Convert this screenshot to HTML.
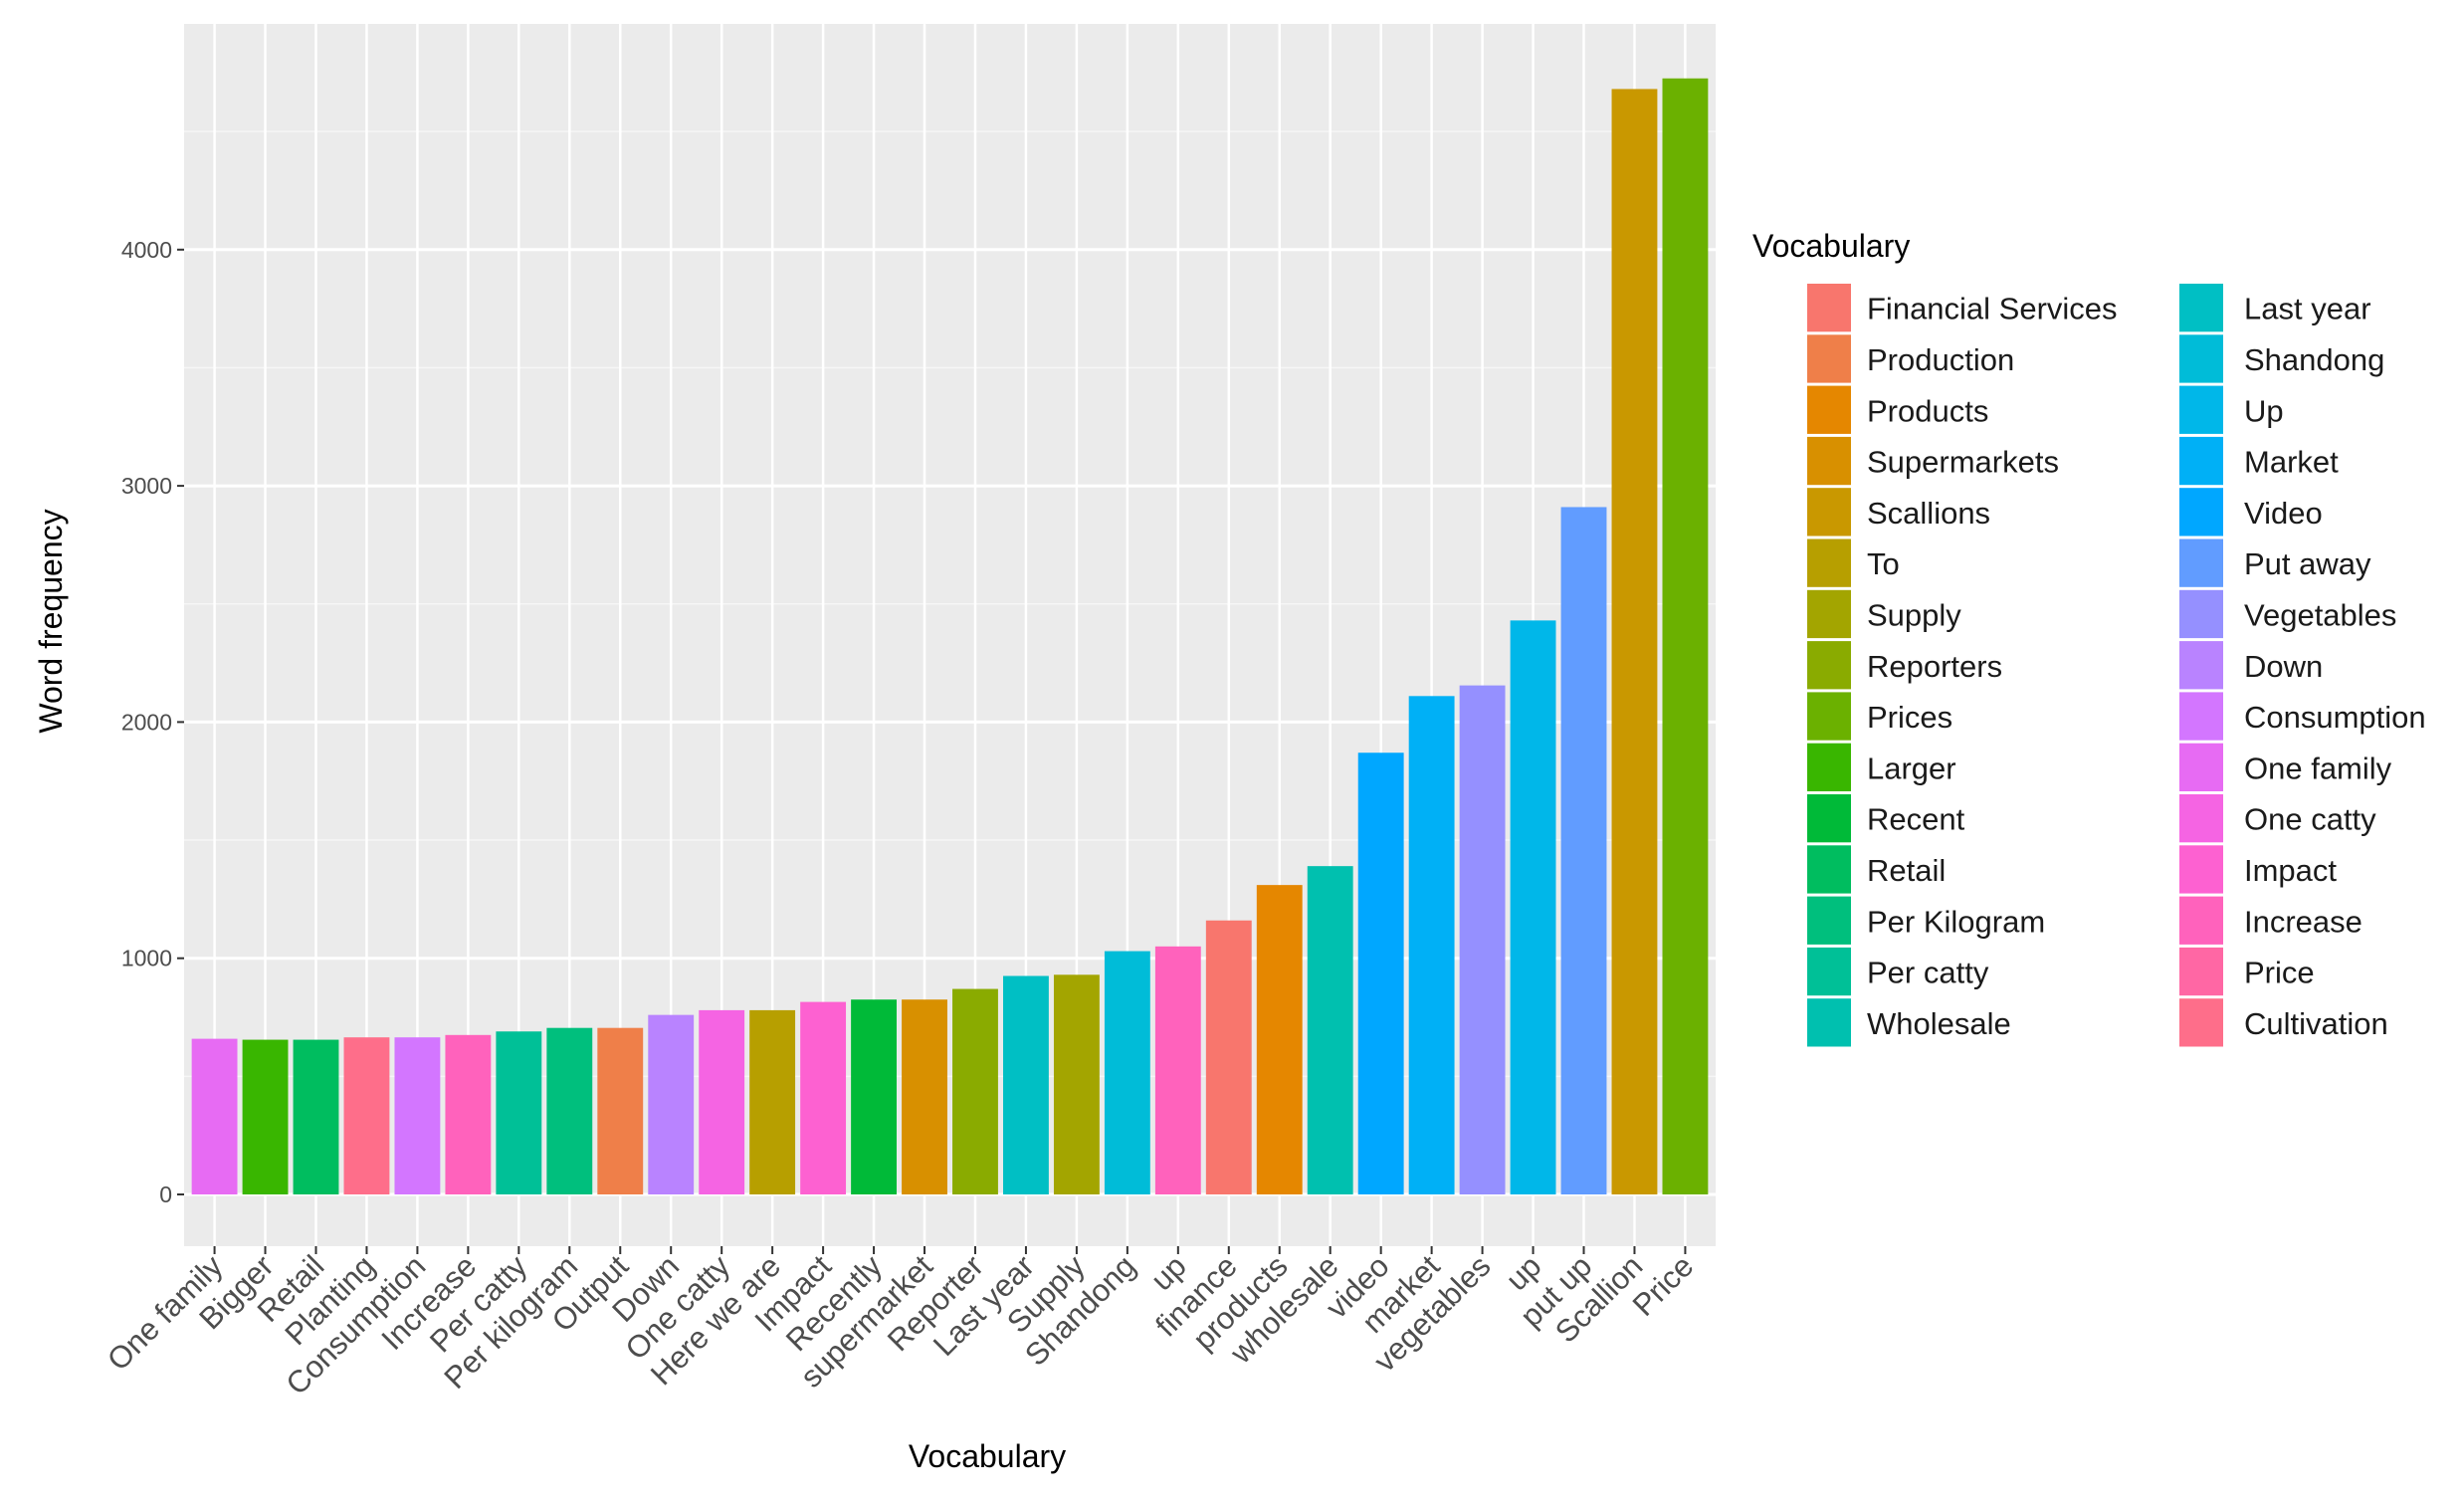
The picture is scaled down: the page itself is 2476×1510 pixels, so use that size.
<!DOCTYPE html>
<html><head><meta charset="utf-8">
<style>
html,body{margin:0;padding:0;background:#fff;}
svg{display:block;}
text{font-family:"Liberation Sans",sans-serif;}
</style></head>
<body>
<svg id="chart" width="2476" height="1510" viewBox="0 0 2476 1510"></svg>
<script>
const categories = ["One family","Bigger","Retail","Planting","Consumption","Increase","Per catty","Per kilogram","Output","Down","One catty","Here we are","Impact","Recently","supermarket","Reporter","Last year","Supply","Shandong","up","finance","products","wholesale","video","market","vegetables","up","put up","Scallion","Price"];
const frequencies = [659,655,655,665,665,675,690,705,705,760,780,780,815,825,825,870,925,930,1030,1050,1160,1310,1390,1870,2110,2155,2430,2910,4680,4725];
const legendLabels = ["Financial Services","Production","Products","Supermarkets","Scallions","To","Supply","Reporters","Prices","Larger","Recent","Retail","Per Kilogram","Per catty","Wholesale","Last year","Shandong","Up","Market","Video","Put away","Vegetables","Down","Consumption","One family","One catty","Impact","Increase","Price","Cultivation"];
const barLegendIndex = [24,9,11,29,23,27,13,12,1,22,25,5,26,10,3,7,15,6,16,27,0,2,14,19,18,21,17,20,4,8];
const yTicks = [0,1000,2000,3000,4000];

const NS="http://www.w3.org/2000/svg";
const svg=document.getElementById('chart');
function mk(tag,attrs,parent){const e=document.createElementNS(NS,tag);for(const k in attrs)e.setAttribute(k,attrs[k]);(parent||svg).appendChild(e);return e;}

function hcl(h,c,l){
  const hr=h*Math.PI/180;const U=c*Math.cos(hr),V=c*Math.sin(hr);
  const Xn=95.047,Yn=100,Zn=108.883;
  const un=4*Xn/(Xn+15*Yn+3*Zn),vn=9*Yn/(Xn+15*Yn+3*Zn);
  const Y=l>8?Yn*Math.pow((l+16)/116,3):Yn*l/903.3;
  const u=U/(13*l)+un,v=V/(13*l)+vn;
  const X=9*Y*u/(4*v),Z=-X/3-5*Y+3*Y/v;
  const x=X/100,y=Y/100,z=Z/100;
  let r=3.240479*x-1.537150*y-0.498535*z,g=-0.969256*x+1.875992*y+0.041556*z,b=0.055648*x-0.204043*y+1.057311*z;
  const gm=t=>{t=t<=0.0031308?12.92*t:1.055*Math.pow(t,1/2.4)-0.055;return Math.round(Math.max(0,Math.min(1,t))*255);};
  return `rgb(${gm(r)},${gm(g)},${gm(b)})`;
}
const nL=legendLabels.length;
const colorOf=i=>hcl(15+360/nL*i,100,65);

const PX0=185,PX1=1724,PY0=24,PY1=1252;
const n=categories.length;
const step=(PX1-PX0)/(n+0.2);
const xCenter=i=>PX0+step*(0.6+i);
const Y0=1200,PER=237.3/1000;
const yPos=v=>Y0-v*PER;

const panel=mk('rect',{x:PX0,y:PY0,width:PX1-PX0,height:PY1-PY0,fill:'#ebebeb'});



for(let v=500;v<=4500;v+=1000){
  const l=mk('line',{x1:PX0,x2:PX1,y1:yPos(v),y2:yPos(v),stroke:'#f6f6f6','stroke-width':1.5});
  
  
}
yTicks.forEach(v=>{
  const l=mk('line',{x1:PX0,x2:PX1,y1:yPos(v),y2:yPos(v),stroke:'#fff','stroke-width':3});
  
  
  const t=mk('line',{x1:PX0-7,x2:PX0,y1:yPos(v),y2:yPos(v),stroke:'#333','stroke-width':2});
  
  
  const lb=mk('text',{x:PX0-12,y:yPos(v)+8,'text-anchor':'end','font-size':23,fill:'#4d4d4d'});
  lb.textContent=v;
  
  
});
categories.forEach((c,i)=>{
  const x=xCenter(i);
  const g=mk('line',{x1:x,x2:x,y1:PY0,y2:PY1,stroke:'#fff','stroke-width':2.5});
  
  
});
categories.forEach((c,i)=>{
  const x=xCenter(i),w=step*0.9,v=frequencies[i];
  const b=mk('rect',{x:x-w/2,y:yPos(v),width:w,height:yPos(0)-yPos(v),fill:colorOf(barLegendIndex[i])});
  
  
  const t=mk('line',{x1:x,x2:x,y1:PY1,y2:PY1+8,stroke:'#333','stroke-width':2});
  
  
  const lb=mk('text',{x:0,y:0,'text-anchor':'end','font-size':31,fill:'#4d4d4d',transform:`translate(${x+10},${PY1+22}) rotate(-45)`});
  lb.textContent=c;
  
  
});

const yt=mk('text',{x:0,y:0,'text-anchor':'middle','font-size':32,fill:'#000',transform:'translate(62,624) rotate(-90)'});
yt.textContent='Word frequency';


const xt=mk('text',{x:992,y:1474,'text-anchor':'middle','font-size':32,fill:'#000'});
xt.textContent='Vocabulary';



const lt=mk('text',{x:1761,y:258,'font-size':32,fill:'#000'});
lt.textContent='Vocabulary';


const KH=51.3,KY=284;
legendLabels.forEach((lab,i)=>{
  const col=i<15?0:1,row=i%15;
  const kx=col?2190:1816,tx=col?2255:1876;
  const y=KY+row*KH;
  const k=mk('rect',{x:kx,y:y+1,width:44,height:KH-3,fill:colorOf(i)});
  
  
  const t=mk('text',{x:tx,y:y+KH/2+11,'font-size':31,fill:'#1a1a1a'});
  t.textContent=lab;
  
  
});
</script>
</body></html>
